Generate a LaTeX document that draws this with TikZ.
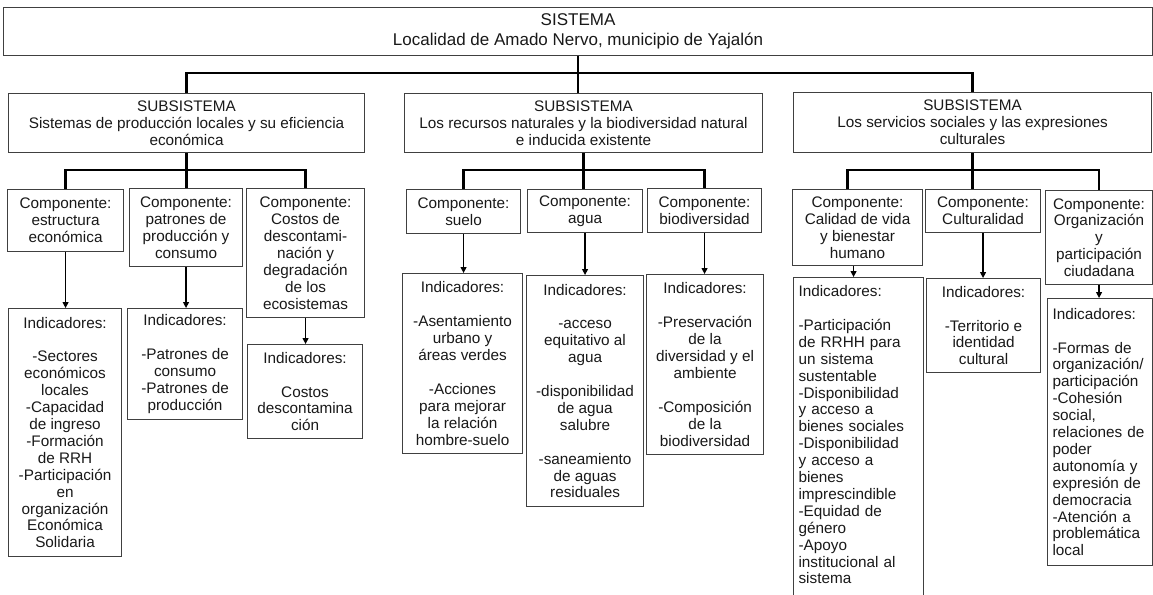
\documentclass[tikz,border=0pt]{standalone}
\usepackage{fontspec}
\setmainfont{Liberation Sans}
\usetikzlibrary{arrows.meta}
\begin{document}
\begin{tikzpicture}[x=1pt,y=-1pt,
  box/.style={draw=black!75, line width=1.1pt, fill=white, anchor=north west,
    align=center, inner sep=2pt, text=black!90,
    font=\fontsize{15.3}{16.9}\selectfont},
  topbox/.style={box, font=\fontsize{17}{19.5}\selectfont},
  leftbox/.style={box, align=left, inner xsep=5pt},
  bar/.style={line width=2.4pt, black},
  arr/.style={line width=1.2pt, black, -{Triangle[length=6pt,width=6pt]}}]
\useasboundingbox (0,0) rectangle (1153,594);

% system
\node[topbox, minimum width=1149, minimum height=48] (top) at (3,7)
  {SISTEMA\\Localidad de Amado Nervo, municipio de Yajalón};

% subsystems
\node[box, minimum width=356, minimum height=59] (sub1) at (8,93)
  {SUBSISTEMA\\Sistemas de producción locales y su eficiencia\\económica};
\node[box, minimum width=358, minimum height=59] (sub2) at (404,93)
  {SUBSISTEMA\\Los recursos naturales y la biodiversidad natural\\e inducida existente};
\node[box, minimum width=358, minimum height=60] (sub3) at (793,92)
  {SUBSISTEMA\\Los servicios sociales y las expresiones\\culturales};

% components
\node[box, minimum width=116, minimum height=62] (c1a) at (7,189)
  {Componente:\\estructura\\económica};
\node[box, minimum width=113, minimum height=78] (c1b) at (129,188)
  {Componente:\\patrones de\\producción y\\consumo};
\node[box, minimum width=118, minimum height=129] (c1c) at (246,188)
  {Componente:\\Costos de\\descontami-\\nación y\\degradación\\de los\\ecosistemas};
\node[box, minimum width=114, minimum height=44] (c2a) at (406,189)
  {Componente:\\suelo};
\node[box, minimum width=115, minimum height=43] (c2b) at (527,189)
  {Componente:\\agua};
\node[box, minimum width=114, minimum height=44] (c2c) at (647,188)
  {Componente:\\biodiversidad};
\node[box, minimum width=130, minimum height=76] (c3a) at (792,189)
  {Componente:\\Calidad de vida\\y bienestar\\humano};
\node[box, minimum width=115, minimum height=43] (c3b) at (925,189)
  {Componente:\\Culturalidad};
\node[box, minimum width=107, minimum height=94] (c3c) at (1045,190)
  {Componente:\\Organización\\y\\participación\\ciudadana};

% indicators
\node[box, minimum width=113, minimum height=248] (i1a) at (8,308)
  {Indicadores:\\[16.9pt]-Sectores\\económicos\\locales\\-Capacidad\\de ingreso\\-Formación\\de RRH\\-Participación\\en\\organización\\Económica\\Solidaria};
\node[box, minimum width=115, minimum height=111] (i1b) at (127,308)
  {Indicadores:\\[16.9pt]-Patrones de\\consumo\\-Patrones de\\producción};
\node[box, minimum width=115, minimum height=94] (i1c) at (247,344)
  {Indicadores:\\[16.9pt]Costos\\descontamina\\ción};
\node[box, minimum width=120, minimum height=180] (i2a) at (402,273)
  {Indicadores:\\[16.9pt]-Asentamiento\\urbano y\\áreas verdes\\[16.9pt]-Acciones\\para mejorar\\la relación\\hombre-suelo};
\node[box, minimum width=117, minimum height=231] (i2b) at (526,275)
  {Indicadores:\\[16.9pt]-acceso\\equitativo al\\agua\\[16.9pt]-disponibilidad\\de agua\\salubre\\[16.9pt]-saneamiento\\de aguas\\residuales};
\node[box, minimum width=117, minimum height=180] (i2c) at (646,274)
  {Indicadores:\\[16.9pt]-Preservación\\de la\\diversidad y el\\ambiente\\[16.9pt]-Composición\\de la\\biodiversidad};
\node[leftbox, text width=120, inner ysep=8pt] (i3a) at (793,277)
  {Indicadores:\\[16.9pt]-Participación\\de RRHH para\\un sistema\\sustentable\\-Disponibilidad\\y acceso a\\bienes sociales\\-Disponibilidad\\y acceso a\\bienes\\imprescindible\\-Equidad de\\género\\-Apoyo\\institucional al\\sistema\\[4pt]\mbox{}};
\node[box, minimum width=114, minimum height=94] (i3b) at (926,278)
  {Indicadores:\\[16.9pt]-Territorio e\\identidad\\cultural};
\node[leftbox, text width=95, minimum height=267] (i3c) at (1047,298)
  {Indicadores:\\[16.9pt]-Formas de\\organización/\\participación\\-Cohesión\\social,\\relaciones de\\poder\\autonomía y\\expresión de\\democracia\\-Atención a\\problemática\\local};

% tree connectors
\coordinate (j0) at (577.5,73);
\coordinate (j1) at (186,170);
\coordinate (j2) at (583,170);
\coordinate (j3) at (972.5,170);
\draw[bar] (top.south) -- (top.south |- sub2.north);
\draw[bar] (sub1.north) |- (j0) -| (sub3.north);
\draw[bar] (sub1.south) -- (sub1.south |- c1b.north);
\draw[bar] (c1a.north) |- (j1) -| (c1c.north);
\draw[bar] (sub2.south) -- (sub2.south |- c2b.north);
\draw[bar] (c2a.north) |- (j2) -| (c2c.north);
\draw[bar] (sub3.south) -- (sub3.south |- c3b.north);
\draw[bar] ([xshift=-10pt]c3a.north) |- (j3) -| (c3c.north);

% arrows
\draw[arr] (c1a.south) -- (c1a.south |- i1a.north);
\draw[arr] (c1b.south) -- (c1b.south |- i1b.north);
\draw[arr] (c1c.south) -- (c1c.south |- i1c.north);
\draw[arr] (c2a.south) -- (c2a.south |- i2a.north);
\draw[arr] (c2b.south) -- (c2b.south |- i2b.north);
\draw[arr] (c2c.south) -- (c2c.south |- i2c.north);
\draw[arr] ([xshift=-4pt]c3a.south) -- ([xshift=-4pt]c3a.south |- i3a.north);
\draw[arr] (c3b.south) -- (c3b.south |- i3b.north);
\draw[arr] (c3c.south) -- (c3c.south |- i3c.north);
\end{tikzpicture}
\end{document}
